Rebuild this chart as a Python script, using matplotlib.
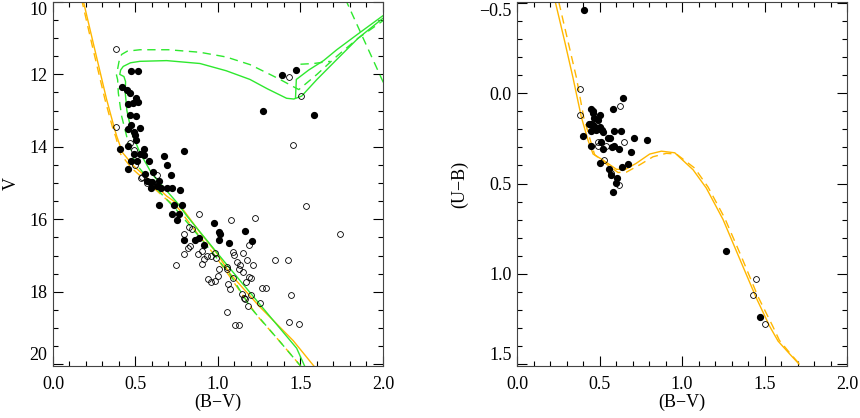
import matplotlib
matplotlib.use("Agg")
import matplotlib.pyplot as plt
from matplotlib.ticker import MultipleLocator

plt.rcParams['font.family'] = ['Liberation Serif', 'DejaVu Serif']
plt.rcParams['axes.unicode_minus'] = True

GREEN = '#2ee82e'
ORANGE = '#ffb700'

# ---- left panel: V vs (B-V) ----
cmd_filled_bv = [0.473, 0.513, 0.416, 0.447, 0.465, 0.455, 0.483, 0.503, 0.513, 0.465,
                 0.503, 0.475, 0.455, 0.525, 0.491, 0.495, 0.503, 0.456, 0.404, 0.553,
                 0.491, 0.525, 0.550, 0.675, 0.794, 0.585, 0.693, 0.453, 0.713, 0.559,
                 0.608, 0.568, 0.602, 0.644, 0.594, 0.628, 0.656, 0.693, 0.721, 0.772,
                 0.644, 0.735, 0.784, 0.471, 0.509, 0.588, 0.723, 0.753, 0.764, 0.794,
                 0.862, 0.883, 0.913, 0.974, 1.004, 1.014, 1.004, 1.065, 1.162, 1.204,
                 1.386, 1.475, 1.275, 1.584]
cmd_filled_v = [11.91, 11.90, 12.34, 12.42, 12.51, 12.82, 12.80, 12.66, 12.76, 13.13,
                13.14, 13.40, 13.50, 13.49, 13.60, 13.68, 13.80, 13.98, 14.05, 14.07,
                14.20, 14.20, 14.23, 14.25, 14.12, 14.40, 14.50, 14.62, 14.77, 14.75,
                14.69, 14.94, 14.96, 14.94, 15.15, 15.07, 15.14, 15.15, 15.13, 15.18,
                15.60, 15.60, 15.60, 14.40, 14.39, 14.98, 15.85, 16.03, 15.85, 16.57,
                16.56, 16.52, 16.70, 16.10, 16.36, 16.40, 16.57, 16.65, 16.32, 16.60,
                12.03, 11.88, 13.01, 13.12]

cmd_open_bv = [0.382, 0.382, 1.432, 1.505, 1.455, 0.467, 0.493, 0.495, 0.535, 0.628,
               0.537, 0.572, 0.885, 1.081, 1.222, 1.533, 1.741, 0.744, 0.794, 0.794,
               0.818, 0.832, 0.822, 0.844, 0.881, 0.905, 0.905, 0.913, 0.933, 0.958,
               0.982, 0.986, 0.941, 0.958, 0.984, 1.000, 1.006, 1.055, 1.056, 1.059,
               1.073, 1.093, 1.093, 1.095, 1.115, 1.125, 1.135, 1.153, 1.153, 1.176,
               1.186, 1.188, 1.202, 1.170, 1.214, 1.202, 1.145, 1.156, 1.166, 1.184,
               1.255, 1.265, 1.293, 1.344, 1.424, 1.444, 1.432, 1.491, 1.105, 1.125,
               1.055]
cmd_open_v = [11.30, 13.44, 12.07, 12.60, 13.94, 13.90, 14.09, 14.50, 14.85, 14.77,
              14.84, 15.01, 15.85, 16.02, 15.96, 15.62, 16.42, 17.27, 16.95, 16.40,
              16.79, 16.73, 16.20, 16.28, 16.95, 16.88, 17.23, 17.11, 17.00, 17.00,
              16.93, 17.07, 17.66, 17.73, 17.69, 17.56, 17.36, 17.31, 17.38, 17.80,
              17.93, 17.61, 16.90, 16.98, 17.18, 17.36, 17.27, 16.92, 17.45, 17.12,
              16.70, 17.60, 17.62, 17.73, 17.27, 18.08, 18.07, 18.16, 18.21, 18.40,
              18.30, 17.89, 17.89, 17.12, 17.12, 18.08, 18.83, 18.90, 18.92, 18.93,
              18.55]

# main-sequence isochrones (orange)
ms_solid_bv = [0.180, 0.250, 0.325, 0.370, 0.386, 0.420, 0.487, 0.600, 0.689, 0.770,
               0.891, 1.000, 1.073, 1.250, 1.456, 1.590]
ms_solid_v = [9.90, 11.25, 12.69, 13.45, 13.70, 14.15, 14.52, 14.98, 15.36, 15.62,
              16.36, 16.98, 17.50, 18.40, 19.35, 20.10]
ms_dash_bv = [0.172, 0.240, 0.315, 0.360, 0.380, 0.410, 0.475, 0.590, 0.680, 0.760,
              0.880, 0.990, 1.073, 1.235, 1.380, 1.510]
ms_dash_v = [9.90, 11.25, 12.69, 13.45, 13.72, 14.20, 14.58, 15.05, 15.42, 15.70,
             16.42, 17.05, 17.59, 18.65, 19.40, 20.10]

# full isochrones (green)
iso_solid_bv = [1.530, 1.477, 1.300, 1.073, 0.810, 0.750, 0.600, 0.527, 0.477, 0.448,
                0.438, 0.440, 0.430, 0.405, 0.410, 0.426, 0.470, 0.527, 0.689, 0.891,
                1.050, 1.194, 1.300, 1.416, 1.460, 1.507, 1.600, 1.720, 1.850, 2.000]
iso_solid_v = [20.10, 19.56, 18.60, 17.36, 15.90, 15.53, 14.75, 14.16, 13.61, 13.00,
               12.50, 12.20, 12.06, 12.00, 11.88, 11.78, 11.68, 11.64, 11.62, 11.70,
               11.90, 12.14, 12.40, 12.66, 12.68, 12.60, 12.14, 11.59, 11.00, 10.45]
agb_solid_bv = [1.470, 1.475, 1.550, 1.640, 1.720, 1.850, 2.000]
agb_solid_v = [12.64, 12.14, 11.88, 11.62, 11.32, 10.88, 10.38]
iso_dash_bv = [1.510, 1.376, 1.200, 1.073, 0.900, 0.750, 0.600, 0.500, 0.456, 0.416,
               0.396, 0.392, 0.385, 0.400, 0.416, 0.450, 0.527, 0.700, 0.891, 1.050,
               1.194, 1.315, 1.376, 1.457, 1.490, 1.600, 1.720, 1.850, 2.000]
iso_dash_v = [20.10, 19.38, 18.45, 17.52, 16.55, 15.75, 15.02, 14.45, 13.88, 13.15,
              12.51, 12.15, 12.02, 11.65, 11.45, 11.36, 11.32, 11.32, 11.39, 11.52,
              11.73, 12.00, 12.14, 12.34, 12.42, 12.00, 11.50, 11.00, 10.52]
hb_dash_bv = [1.500, 1.580, 1.680]
hb_dash_v = [11.72, 11.70, 11.64]
tip_dash_bv = [1.770, 2.010]
tip_dash_v = [9.90, 12.30]

# ---- right panel: (U-B) vs (B-V) ----
ccd_filled_bv = [0.408, 0.640, 0.580, 0.448, 0.459, 0.463, 0.501, 0.467, 0.489, 0.438,
                 0.451, 0.463, 0.473, 0.481, 0.495, 0.513, 0.521, 0.451, 0.501, 0.590,
                 0.630, 0.400, 0.552, 0.562, 0.711, 0.790, 0.511, 0.448, 0.588, 0.578,
                 0.521, 0.620, 0.691, 0.501, 0.671, 0.638, 0.560, 0.608, 0.570, 0.598,
                 0.580, 1.269, 1.471]
ccd_filled_ub = [-0.461, 0.029, 0.089, 0.089, 0.097, 0.108, 0.120, 0.140, 0.151, 0.169,
                 0.173, 0.178, 0.188, 0.206, 0.197, 0.206, 0.215, 0.209, 0.188, 0.209,
                 0.209, 0.239, 0.250, 0.250, 0.250, 0.260, 0.270, 0.291, 0.291, 0.297,
                 0.310, 0.310, 0.328, 0.388, 0.390, 0.410, 0.421, 0.470, 0.455, 0.497,
                 0.548, 0.871, 1.239]
ccd_open_bv = [0.380, 0.382, 0.622, 0.648, 0.493, 0.493, 0.539, 0.529, 0.570, 0.620,
               1.451, 1.430, 1.501]
ccd_open_ub = [-0.022, 0.120, 0.069, 0.270, 0.270, 0.291, 0.291, 0.370, 0.444, 0.510,
               1.029, 1.118, 1.277]

ccd_solid_bv = [0.232, 0.289, 0.339, 0.390, 0.430, 0.461, 0.521, 0.602, 0.653, 0.723,
                0.804, 0.875, 0.956, 1.067, 1.147, 1.248, 1.349, 1.451, 1.531, 1.582,
                1.653, 1.709]
ccd_solid_ub = [-0.505, -0.286, -0.086, 0.133, 0.260, 0.337, 0.370, 0.421, 0.424, 0.388,
                0.337, 0.321, 0.330, 0.424, 0.525, 0.698, 0.916, 1.135, 1.290, 1.372,
                1.444, 1.499]
ccd_dash_bv = [0.253, 0.309, 0.360, 0.404, 0.444, 0.470, 0.530, 0.612, 0.663, 0.743,
               0.824, 0.905, 0.966, 1.077, 1.158, 1.258, 1.360, 1.460, 1.550, 1.590,
               1.655, 1.712]
ccd_dash_ub = [-0.505, -0.286, -0.086, 0.133, 0.260, 0.340, 0.385, 0.439, 0.437, 0.397,
               0.352, 0.333, 0.337, 0.415, 0.520, 0.690, 0.905, 1.125, 1.290, 1.368,
               1.440, 1.499]

bv_ticks = [0.0, 0.5, 1.0, 1.5, 2.0]
v_ticks = [10, 12, 14, 16, 18, 20]
ub_ticks = [-0.5, 0.0, 0.5, 1.0, 1.5]


def style_axes(ax, xticks, xmin, yticks, ymin, yfmt):
    ax.set_xticks(xticks)
    ax.set_xticklabels(['%.1f' % t for t in xticks])
    ax.xaxis.set_minor_locator(MultipleLocator(xmin))
    ax.set_yticks(yticks)
    ax.set_yticklabels([(yfmt % t).replace('-', '\u2212') for t in yticks])
    ax.yaxis.set_minor_locator(MultipleLocator(ymin))
    ax.tick_params(which='both', direction='in', top=True, right=True,
                   width=0.8, labelsize=13)
    ax.tick_params(which='major', length=7)
    ax.tick_params(which='minor', length=3.5)
    ax.tick_params(axis='x', pad=7)
    ax.tick_params(axis='y', pad=4)
    # end labels are pulled inside the frame, like the original
    ylabels = ax.get_yticklabels()
    ylabels[0].set_va('top')
    ylabels[-1].set_va('bottom')
    for sp in ax.spines.values():
        sp.set_linewidth(0.8)
        sp.set_color('#444444')


fig = plt.figure(figsize=(8.6, 4.18), dpi=100)
ax1 = fig.add_axes([0.0616, 0.1244, 0.3837, 0.8710])
ax2 = fig.add_axes([0.6012, 0.1244, 0.3837, 0.8710])

dash = (0, (6, 4))
lw = 1.0

# left
ax1.plot(ms_solid_bv, ms_solid_v, color=ORANGE, lw=lw)
ax1.plot(ms_dash_bv, ms_dash_v, color=ORANGE, lw=lw, ls=dash)
ax1.plot(iso_solid_bv, iso_solid_v, color=GREEN, lw=lw)
ax1.plot(agb_solid_bv, agb_solid_v, color=GREEN, lw=lw)
ax1.plot(iso_dash_bv, iso_dash_v, color=GREEN, lw=lw, ls=dash)
ax1.plot(hb_dash_bv, hb_dash_v, color=GREEN, lw=lw, ls=dash)
ax1.plot(tip_dash_bv, tip_dash_v, color=GREEN, lw=lw, ls=dash)
ax1.plot(cmd_open_bv, cmd_open_v, 'o', mfc='none', mec='black', mew=0.6, ms=4.2)
ax1.plot(cmd_filled_bv, cmd_filled_v, 'o', color='black', ms=4.2)
ax1.set_xlim(0.0, 2.0)
ax1.set_ylim(20.05, 10.0)
style_axes(ax1, bv_ticks, 0.1, v_ticks, 0.5, '%d')
ax1.set_xlabel('(B\u2212V)', fontsize=13, labelpad=1)
ax1.set_ylabel('V', fontsize=13, labelpad=7)

# right
ax2.plot(ccd_solid_bv, ccd_solid_ub, color=ORANGE, lw=lw)
ax2.plot(ccd_dash_bv, ccd_dash_ub, color=ORANGE, lw=lw, ls=dash)
ax2.plot(ccd_open_bv, ccd_open_ub, 'o', mfc='none', mec='black', mew=0.6, ms=4.2)
ax2.plot(ccd_filled_bv, ccd_filled_ub, 'o', color='black', ms=4.2)
ax2.set_xlim(0.0, 2.0)
ax2.set_ylim(1.51, -0.505)
style_axes(ax2, bv_ticks, 0.1, ub_ticks, 0.1, '%.1f')
ax2.set_xlabel('(B\u2212V)', fontsize=13, labelpad=1)
ax2.set_ylabel('(U\u2212B)', fontsize=13, labelpad=8)

plt.savefig('out.png', dpi=100)
